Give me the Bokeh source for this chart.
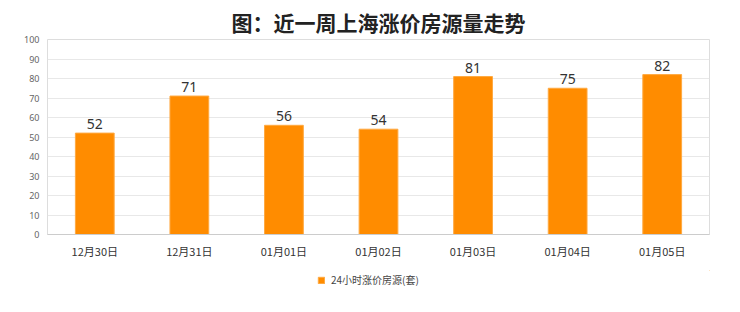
from bokeh.plotting import figure
from bokeh.models import ColumnDataSource, LabelSet, Legend, LegendItem, FixedTicker
from bokeh.layouts import column
from bokeh.core.properties import value
from bokeh.embed import file_html
from bokeh.resources import INLINE

dates = ["12月30日", "12月31日", "01月01日", "01月02日", "01月03日", "01月04日", "01月05日"]
counts = [52, 71, 56, 54, 81, 75, 82]
title_text = "图：近一周上海涨价房源量走势"
series_name = "24小时涨价房源(套)"

BAR_COLOR = "#FF8C00"
BAR_EDGE = "#FFA940"

src = ColumnDataSource(dict(x=dates, y=counts, t=[str(c) for c in counts]))

p = figure(width=740, height=270, x_range=dates, y_range=(0, 100),
           output_backend="svg", toolbar_location=None,
           min_border_left=47, min_border_right=31, min_border_top=39, min_border_bottom=36)
p.background_fill_color = "white"
p.border_fill_color = "white"
p.outline_line_color = "#dddddd"

r = p.vbar(x="x", top="y", width=0.41, source=src, fill_color=BAR_COLOR, line_color=BAR_EDGE, line_width=1)

p.add_layout(LabelSet(x="x", y="y", text="t", source=src, text_align="center", text_baseline="alphabetic",
                      y_offset=4, text_font_size="14px", text_color="#333333", text_font=value("Noto Sans")))

p.yaxis.ticker = FixedTicker(ticks=list(range(0, 101, 10)))
p.yaxis.axis_line_color = None
p.yaxis.major_tick_line_color = None
p.yaxis.minor_tick_line_color = None
p.yaxis.major_tick_out = 0
p.yaxis.major_label_text_font_size = "9px"
p.yaxis.major_label_text_color = "#666666"
p.yaxis.major_label_text_font = "Noto Sans"
p.yaxis.major_label_standoff = 8

p.xaxis.axis_line_color = "#cccccc"
p.xaxis.major_tick_line_color = None
p.xaxis.minor_tick_line_color = None
p.xaxis.major_tick_out = 0
p.xaxis.major_label_text_font_size = "11px"
p.xaxis.major_label_text_color = "#333333"
p.xaxis.major_label_text_font = "Noto Sans CJK SC"
p.xaxis.major_label_standoff = 8

p.xgrid.grid_line_color = None
p.ygrid.grid_line_color = "#e8e8e8"

p.title.text = title_text
p.title.align = "center"
p.title.text_font_size = "21px"
p.title.text_font_style = "bold"
p.title.text_color = "#222222"
p.title.text_font = "Noto Sans CJK SC"
p.title.standoff = 6

# legend strip below the chart
lg = figure(width=740, height=42, x_range=(0, 1), y_range=(0, 1), output_backend="svg",
            toolbar_location=None, min_border=0, x_axis_location=None, y_axis_location=None)
lg.grid.visible = False
lg.outline_line_color = None
lg.background_fill_color = "white"
lg.border_fill_color = "white"
dummy = lg.vbar(x=[5], top=[5], bottom=[4], width=0.1, fill_color=BAR_COLOR, line_color=BAR_EDGE)
legend = Legend(items=[LegendItem(label=series_name, renderers=[dummy])], location=(270, 25),
                orientation="horizontal", border_line_color=None, background_fill_alpha=0,
                label_text_font_size="10px", label_text_color="#444444", label_text_font="Noto Sans CJK SC",
                glyph_width=8, glyph_height=8, padding=0, margin=0, label_standoff=6,
                label_height=12)
lg.add_layout(legend, "center")

layout = column(p, lg, spacing=0)
open("out.html", "w").write(file_html(layout, INLINE))
